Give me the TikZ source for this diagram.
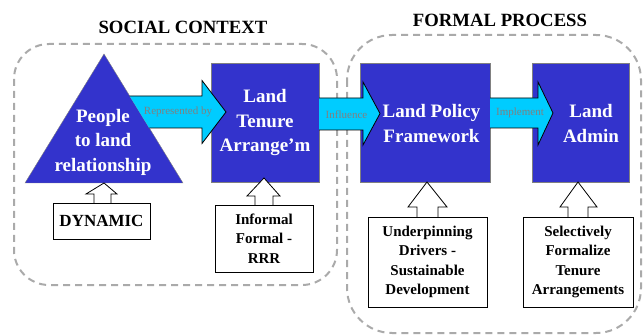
\documentclass[tikz,border=0pt]{standalone}
\usepackage{fontspec}
\setmainfont{Liberation Serif}
\definecolor{boxblue}{RGB}{51,51,204}
\definecolor{arrcyan}{RGB}{0,204,255}
\definecolor{dashgray}{RGB}{170,170,170}
\definecolor{labgray}{RGB}{128,128,128}
\begin{document}
\begin{tikzpicture}[x=1pt,y=-1pt,
  zone/.style={draw=dashgray, line width=2pt, dash pattern=on 7pt off 5pt},
  bluebox/.style={draw=gray, fill=boxblue, inner sep=0pt},
  bluetext/.style={text=white, font=\bfseries\fontsize{19}{24.5}\selectfont, align=center, inner sep=0pt},
  whitebox/.style={draw=black, fill=white, line width=0.8pt, font=\bfseries\fontsize{15}{19.5}\selectfont, align=center, inner sep=0pt},
  flowfill/.style={fill=arrcyan},
  flowline/.style={draw=black, line width=0.8pt},
  upblock/.style={draw=black, fill=white, line width=0.8pt},
  arrlabel/.style={text=labgray, font=\fontsize{11}{13}\selectfont, inner sep=0pt},
  ttl/.style={font=\bfseries\fontsize{18.7}{22}\selectfont, inner sep=0pt}]
\useasboundingbox (0,0) rectangle (644,336);
% zones
\draw[zone, rounded corners=35pt] (14,44) rectangle (337,285);
\draw[zone, rounded corners=45pt] (347,35) rectangle (641,333);
\node[ttl] (soc) at (183,27) {SOCIAL CONTEXT};
\node[ttl] (fp) at (500,20) {FORMAL PROCESS};
% blue shapes
\draw[draw=gray, fill=boxblue] (104,54) -- (183,183) -- (25,183) -- cycle;
\node[bluebox, minimum width=108pt, minimum height=119pt] (lta) at (265,122.5) {};
\node[bluebox, minimum width=130pt, minimum height=119pt] (lpf) at (425,122.5) {};
\node[bluebox, minimum width=97pt, minimum height=119pt] (lad) at (580.5,122.5) {};
% cyan block arrows
\fill[flowfill] (129.7,96) -- (202,96) -- (202,80.5) -- (226,112) -- (202,143.5) -- (202,128) -- (149.3,128) -- cycle;
\draw[flowline] (129.7,96) -- (202,96) -- (202,80.5) -- (226,112) -- (202,143.5) -- (202,128) -- (149.3,128);
\fill[flowfill] (319,98) -- (363,98) -- (363,82) -- (380,113.5) -- (363,145) -- (363,130) -- (319,130) -- cycle;
\draw[flowline] (319,98) -- (363,98) -- (363,82) -- (380,113.5) -- (363,145) -- (363,130) -- (319,130);
\fill[flowfill] (490,98) -- (538,98) -- (538,82) -- (553,113) -- (538,145) -- (538,128) -- (490,128) -- cycle;
\draw[flowline] (490,98) -- (538,98) -- (538,82) -- (553,113) -- (538,145) -- (538,128) -- (490,128);
\node[arrlabel] (lrep) at (178,112) {Represented by};
\node[arrlabel] (linf) at (346.5,114.5) {Influence};
\node[arrlabel] (limp) at (520,113) {Implement};
% texts in blue shapes
\node[bluetext] (pplt) at (103,142) {People\\to land\\relationship};
\node[bluetext] (ltat) at (265,123) {Land\\Tenure\\Arrange’m};
\node[bluetext] (lpft) at (431.5,123.5) {Land Policy\\Framework};
\node[bluetext] (ladt) at (591,123.5) {Land\\Admin};
% up block arrows
\draw[upblock] (94,203) -- (94,194) -- (86,194) -- (104,183) -- (117,194) -- (111,194) -- (111,203);
\draw[upblock] (255,205) -- (255,196) -- (247,196) -- (264,178) -- (280,196) -- (273,196) -- (273,205);
\draw[upblock] (417,217) -- (417,207) -- (408,207) -- (427,182) -- (447,207) -- (438,207) -- (438,217);
\draw[upblock] (568,217) -- (568,207) -- (560,207) -- (578,182) -- (597,207) -- (588,207) -- (588,217);
% white boxes
\node[whitebox, minimum width=97pt, minimum height=36pt, font=\bfseries\fontsize{17}{20}\selectfont] (dyn) at (101.5,221) {DYNAMIC};
\node[whitebox, minimum width=98pt, minimum height=67pt] (inf) at (264,238.5) {Informal\\Formal -\\RRR};
\node[whitebox, minimum width=119pt, minimum height=90pt] (und) at (427.5,262) {Underpinning\\Drivers -\\Sustainable\\Development};
\node[whitebox, minimum width=110pt, minimum height=90pt] (sel) at (578,262) {Selectively\\Formalize\\Tenure\\Arrangements};
\end{tikzpicture}
\end{document}
